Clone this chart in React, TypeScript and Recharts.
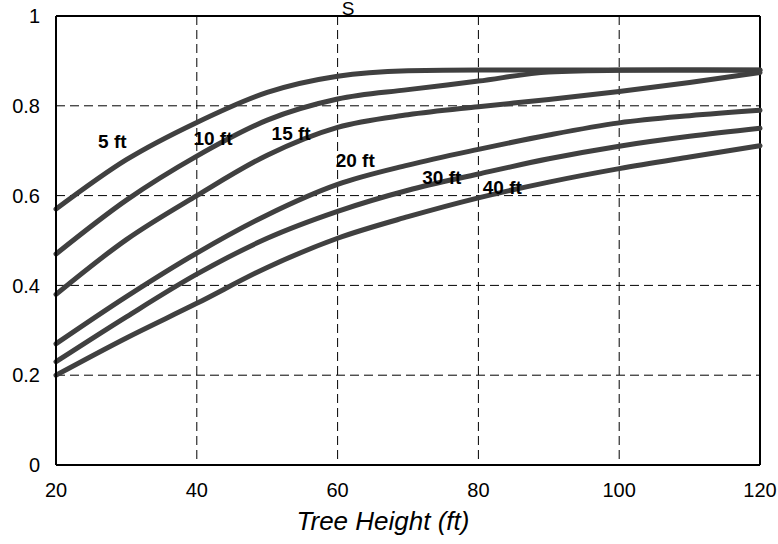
import {
  LineChart, Line, XAxis, YAxis, CartesianGrid, ReferenceLine, ReferenceDot, Label, Customized
} from 'recharts'

// tree height (ft) along the x axis
const heights = [20, 30, 40, 50, 60, 70, 80, 90, 100, 110, 120]

// one curve per spacing
const ft5 = [0.57, 0.68, 0.763, 0.83, 0.866, 0.878, 0.88, 0.88, 0.88, 0.88, 0.88]
const ft10 = [0.47, 0.59, 0.688, 0.768, 0.815, 0.836, 0.855, 0.875, 0.879, 0.88, 0.879]
const ft15 = [0.38, 0.502, 0.6, 0.69, 0.752, 0.78, 0.798, 0.814, 0.832, 0.852, 0.874]
const ft20 = [0.27, 0.375, 0.472, 0.557, 0.625, 0.668, 0.703, 0.735, 0.762, 0.778, 0.79]
const ft30 = [0.23, 0.33, 0.425, 0.505, 0.565, 0.612, 0.648, 0.682, 0.71, 0.732, 0.75]
const ft40 = [0.2, 0.283, 0.36, 0.44, 0.505, 0.553, 0.595, 0.63, 0.66, 0.686, 0.711]

const seriesKeys = ['ft5', 'ft10', 'ft15', 'ft20', 'ft30', 'ft40']
const seriesValues = [ft5, ft10, ft15, ft20, ft30, ft40]

// in-plot curve labels, anchored in data units
const curveLabels = ['5 ft', '10 ft', '15 ft', '20 ft', '30 ft', '40 ft']
const curveLabelX = [28, 42.3, 53.4, 62.5, 74.8, 83.4]
const curveLabelY = [0.722, 0.728, 0.739, 0.679, 0.641, 0.619]

const xTicks = [20, 40, 60, 80, 100, 120]
const yTicks = [0, 0.2, 0.4, 0.6, 0.8, 1]

const FONT = '"Liberation Sans", Arial, sans-serif'

const rows = heights.map((h, i) => {
  const row: Record<string, number> = { h }
  seriesKeys.forEach((k, j) => { row[k] = seriesValues[j][i] })
  return row
})

function AxisTitle({ viewBox }: { viewBox?: { x: number; y: number; width: number } }) {
  if (!viewBox) return null
  return (
    <text
      x={viewBox.x + viewBox.width / 2 - 25}
      y={530}
      textAnchor="middle"
      fontFamily={FONT}
      fontSize={26}
      fontStyle="italic"
      fill="#000"
    >
      Tree Height (ft)
    </text>
  )
}

export default function App() {
  return (
    <div style={{ position: 'absolute', left: 0, top: 0, width: 778, height: 544, background: '#fff' }}>
      <LineChart
        width={778}
        height={544}
        data={rows}
        margin={{ top: 16, right: 18, bottom: 0, left: 0 }}
        style={{ fontFamily: FONT }}
      >
        <CartesianGrid stroke="#000" strokeDasharray="9 5" strokeWidth={1} />
        <XAxis
          dataKey="h"
          type="number"
          domain={[20, 120]}
          ticks={xTicks}
          height={79}
          tickLine={false}
          tickSize={0}
          tickMargin={18}
          axisLine={{ stroke: '#000', strokeWidth: 2 }}
          tick={{ fontSize: 20, fill: '#000', fontFamily: FONT }}
        >
          <Label content={<AxisTitle />} />
        </XAxis>
        <YAxis
          type="number"
          domain={[0, 1]}
          ticks={yTicks}
          width={56}
          tickLine={false}
          tickSize={0}
          tickMargin={16}
          axisLine={{ stroke: '#000', strokeWidth: 2 }}
          tick={{ fontSize: 20, fill: '#000', fontFamily: FONT }}
        />
        <ReferenceLine y={1} stroke="#000" strokeWidth={2} />
        <ReferenceLine x={120} stroke="#000" strokeWidth={2} />
        {seriesKeys.map((k) => (
          <Line
            key={k}
            dataKey={k}
            type="monotone"
            stroke="#404040"
            strokeWidth={5}
            strokeLinecap="round"
            dot={false}
            isAnimationActive={false}
          />
        ))}
        {curveLabels.map((name, i) => (
          <ReferenceDot
            key={name}
            x={curveLabelX[i]}
            y={curveLabelY[i]}
            r={0}
            fill="none"
            stroke="none"
            label={{ value: name, position: 'center', fontSize: 19, fontWeight: 'bold', fill: '#000', fontFamily: FONT }}
          />
        ))}
        <Customized
          component={() => (
            <text x={348} y={15} textAnchor="middle" fontFamily={FONT} fontSize={19} fill="#000">
              S
            </text>
          )}
        />
      </LineChart>
    </div>
  )
}
